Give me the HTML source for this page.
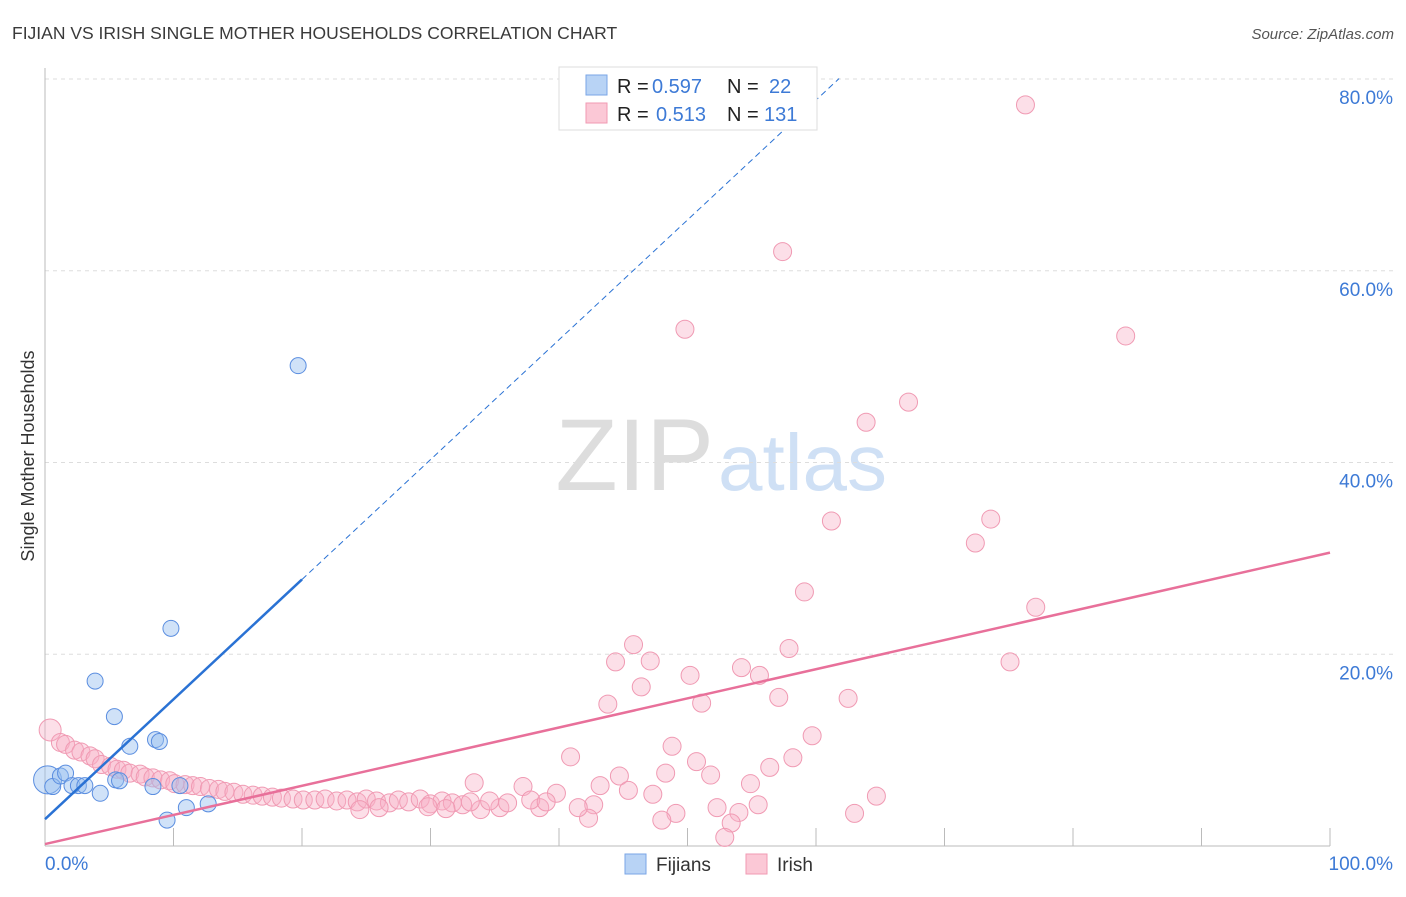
<!DOCTYPE html>
<html><head><meta charset="utf-8"><style>
body{margin:0;background:#fff;font-family:"Liberation Sans",sans-serif}
svg text{font-family:"Liberation Sans",sans-serif}
</style></head><body>
<svg width="1406" height="892" id="svg">
<text x="12" y="39" font-size="17.5" fill="#3a3a3a">FIJIAN VS IRISH SINGLE MOTHER HOUSEHOLDS CORRELATION CHART</text>
<text x="1394" y="39" font-size="15" fill="#555" font-style="italic" text-anchor="end">Source: ZipAtlas.com</text>
<text x="714" y="490" font-size="102" fill="#ddd" text-anchor="end" font-family="Liberation Serif">ZIP</text>
<text x="718" y="490" font-size="80" fill="#cfe0f5">atlas</text>
<text transform="translate(34,456) rotate(-90)" font-size="18" fill="#333" text-anchor="middle">Single Mother Households</text>
<g id="grid"></g><g id="marks"></g><g id="lines"></g>
<g>
<rect x="559" y="67" width="258" height="63" fill="#fff" stroke="#ddd"/>
<rect x="586" y="75" width="21" height="20" fill="#b8d3f5" stroke="#7aa6e6"/>
<rect x="586" y="103" width="21" height="20" fill="#fbc8d6" stroke="#f09ab3"/>
<text x="617" y="93" font-size="20" fill="#222">R =</text>
<text x="652" y="93" font-size="20" fill="#3d7ad6">0.597</text>
<text x="727" y="93" font-size="20" fill="#222">N =</text>
<text x="769" y="93" font-size="20" fill="#3d7ad6">22</text>
<text x="617" y="121" font-size="20" fill="#222">R =</text>
<text x="656" y="121" font-size="20" fill="#3d7ad6">0.513</text>
<text x="727" y="121" font-size="20" fill="#222">N =</text>
<text x="764" y="121" font-size="20" fill="#3d7ad6">131</text>
</g>
<g>
<rect x="625" y="854" width="21" height="20" fill="#b8d3f5" stroke="#7aa6e6"/>
<text x="656" y="871" font-size="19" fill="#333">Fijians</text>
<rect x="746" y="854" width="21" height="20" fill="#fbc8d6" stroke="#f09ab3"/>
<text x="777" y="871" font-size="19" fill="#333">Irish</text>
</g>
</svg>
<script>
const yTicks=[20,40,60,80];
const xTickLabels=["0.0%","100.0%"];
const fijX=[0.2,0.6,1.2,1.6,2.1,2.6,3.1,3.9,4.3,5.4,5.5,6.6,8.6,8.9,9.8,10.5,9.5,11.0,12.7,19.7,5.8,8.4];
const fijY=[6.9,6.2,7.3,7.6,6.3,6.3,6.3,17.2,5.5,13.5,6.9,10.4,11.1,10.9,22.7,6.3,2.7,4.0,4.4,50.1,6.8,6.2];
const irishX=[76.3,57.4,49.8,84.1,67.2,63.9,61.2,73.6,72.4,59.1,77.1,45.8,57.9,44.4,47.1,75.1,54.2,50.2,55.6,46.4,57.1,62.5,43.8,51.1,59.7,48.8,40.9,58.2,50.7,48.3,51.8,56.4,44.7,33.4,43.2,37.2,54.9,45.4,47.3,64.7,55.5,52.3,42.7,39.8,63.0,49.1,48.0,42.3,54.0,53.4,52.9,33.9,35.4,38.5,41.5,
0.4,1.2,1.6,2.3,2.8,3.5,3.9,4.4,5.1,5.6,6.1,6.6,7.4,7.8,8.4,9.0,9.7,10.1,10.9,11.5,12.1,12.8,13.5,14.0,14.7,15.4,16.2,16.9,17.7,18.4,19.3,20.1,21.0,21.8,22.7,23.5,24.3,25.0,25.8,26.8,27.5,28.3,29.2,30.0,30.9,31.7,32.5,33.1,34.6,36.0,37.8,39.0,24.5,26.0,29.8,31.2];
const irishY=[77.3,62.0,53.9,53.2,46.3,44.2,33.9,34.1,31.6,26.5,24.9,21.0,20.6,19.2,19.3,19.2,18.6,17.8,17.8,16.6,15.5,15.4,14.8,14.9,11.5,10.4,9.3,9.2,8.8,7.6,7.4,8.2,7.3,6.6,6.3,6.2,6.5,5.8,5.4,5.2,4.3,4.0,4.3,5.5,3.4,3.4,2.7,2.9,3.5,2.4,0.9,3.8,4.0,4.0,4.0,
12.1,10.8,10.6,10.0,9.8,9.4,9.1,8.5,8.3,8.0,7.9,7.6,7.5,7.2,7.1,6.9,6.8,6.5,6.4,6.3,6.2,6.0,5.9,5.7,5.6,5.4,5.3,5.2,5.1,5.0,4.9,4.8,4.8,4.9,4.7,4.8,4.6,4.9,4.7,4.5,4.8,4.6,4.9,4.4,4.7,4.5,4.3,4.6,4.7,4.5,4.8,4.6,3.8,4.0,4.1,3.9];
const fijLine=[2.8,1.25,61.8];
const irishLine=[0.2,0.304];
const NS='http://www.w3.org/2000/svg';
const X=v=>45+v*12.85, Y=v=>846-v*9.5875;
function mk(t,a,p){const e=document.createElementNS(NS,t);for(const k in a)e.setAttribute(k,a[k]);document.getElementById(p).appendChild(e);return e;}
yTicks.forEach(t=>{const l=mk('line',{x1:45,x2:1394,y1:Y(t),y2:Y(t),stroke:'#ddd','stroke-dasharray':'4,4'},'grid');


const tx=mk('text',{x:1393,y:Y(t)+25,'font-size':19,fill:'#3d7ad6','text-anchor':'end'},'grid');tx.textContent=t.toFixed(1)+'%';

});
mk('line',{x1:45,x2:45,y1:68,y2:846,stroke:'#bbb'},'grid');
mk('line',{x1:45,x2:1330,y1:846,y2:846,stroke:'#bbb'},'grid');
for(let i=1;i<=10;i++){mk('line',{x1:X(i*10),x2:X(i*10),y1:828,y2:846,stroke:'#bbb'},'grid');}
xTickLabels.forEach((s,i)=>{const t=mk('text',{x:i?1393:45,y:870,'font-size':19,fill:'#3d7ad6','text-anchor':i?'end':'start'},'grid');t.textContent=s;

});
irishX.forEach((x,i)=>{const c=mk('circle',{cx:X(x),cy:Y(irishY[i]),r:i==55?11:9,fill:'rgba(248,175,198,0.4)',stroke:'#f09ab3','stroke-width':1},'marks');

});
fijX.forEach((x,i)=>{const c=mk('circle',{cx:X(x),cy:Y(fijY[i]),r:i==0?14:8,fill:'rgba(150,190,240,0.45)',stroke:'#5b8ee0','stroke-width':1},'marks');

});
const f=x=>fijLine[0]+fijLine[1]*x;
let l1=mk('line',{x1:X(0),y1:Y(f(0)),x2:X(20),y2:Y(f(20)),stroke:'#2a72d4','stroke-width':2.5},'lines');


let l2=mk('line',{x1:X(20),y1:Y(f(20)),x2:X(fijLine[2]),y2:Y(f(fijLine[2])),stroke:'#2a72d4','stroke-width':1,'stroke-dasharray':'6,4'},'lines');


const g=x=>irishLine[0]+irishLine[1]*x;
let l3=mk('line',{x1:X(0),y1:Y(g(0)),x2:X(100),y2:Y(g(100)),stroke:'#e8709a','stroke-width':2.5},'lines');


</script>
</body></html>
